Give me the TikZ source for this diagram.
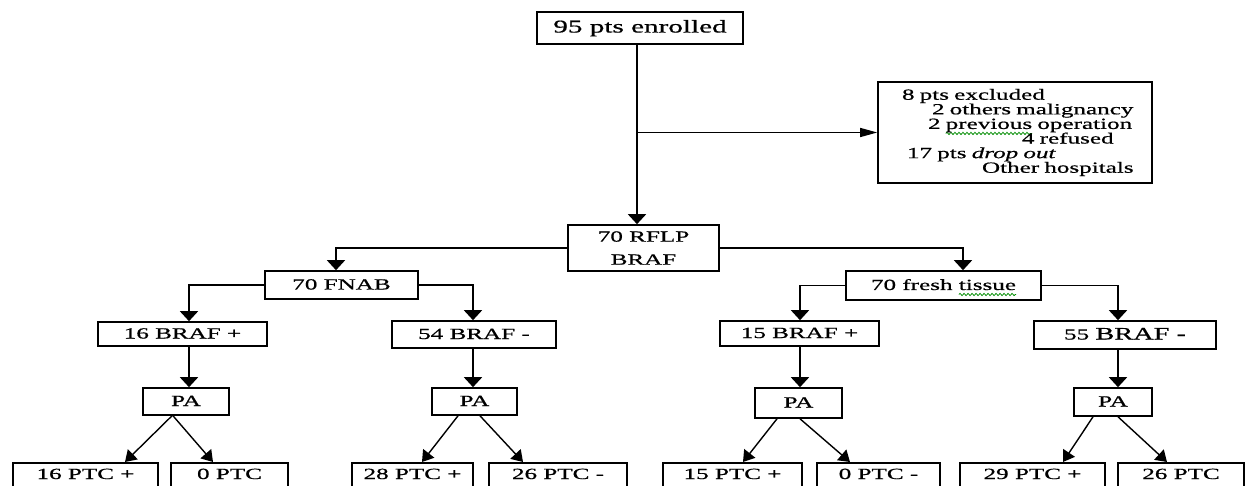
\documentclass[tikz,border=0pt]{standalone}
\usepackage{fontspec}
\setmainfont{Liberation Serif}[FakeStretch=1.62,FakeBold=0.7]
\usetikzlibrary{arrows.meta,calc,decorations.pathmorphing}
\newsavebox\wavebox
\newcommand\gwave[1]{\sbox\wavebox{#1}\rlap{\tikz[overlay,baseline=0pt,x=1pt,y=1pt]\draw[green!55!black,line width=0.8pt,decorate,decoration={snake,segment length=4pt,amplitude=1.1pt}] (0,-4.5) -- (\wd\wavebox,-4.5);}\usebox\wavebox}
\begin{document}
\begin{tikzpicture}[x=1pt,y=-1pt,
  exbox/.style={draw, line width=1.6pt, inner sep=0pt, font=\fontsize{15.5}{18}\selectfont},
  box/.style={exbox, text height=11pt, text depth=2pt},
  leaf/.style={box, anchor=north, text height=16.2pt, text depth=18pt},
  va/.style={line width=1.7pt, -{Triangle[width=18pt,length=10pt]}},
  ha/.style={line width=1.4pt, -{Triangle[width=9pt,length=17pt]}},
  da/.style={line width=1.4pt, -{Triangle[width=14pt,length=11pt]}}]
\useasboundingbox (0,0) rectangle (1247,486);
\clip (0,0) rectangle (1247,486);

\node[box, minimum width=206pt, minimum height=32pt, font=\fontsize{18}{20}\selectfont] (top) at (640,28) {95 pts enrolled};
\node[exbox, minimum width=274pt, minimum height=101pt, text width=274pt, align=left,
      font=\fontsize{15.5}{14.6}\selectfont] (excl) at (1015,132.5)
  {\hspace*{24pt}8 pts excluded\\
   \hspace*{54pt}2 others malignancy\\
   \hspace*{50pt}2 \gwave{previous} operation\\
   \hspace*{144pt}4 refused\\
   \hspace*{29pt}17 pts \textit{drop out}\\
   \hspace*{104pt}Other hospitals};
\node[exbox, minimum width=151pt, minimum height=46pt, align=center,
      font=\fontsize{15.5}{23}\selectfont] (rflp) at (643.5,248) {70 RFLP\\BRAF};

\node[box, minimum width=153pt, minimum height=28pt] (fnab) at (341.5,285) {70 FNAB};
\node[box, minimum width=195pt, minimum height=29pt] (fresh) at (943.5,285.5) {70 fresh \gwave{tissue}};

\node[box, minimum width=169pt, minimum height=24pt] (b16) at (182.5,334) {16 BRAF +};
\node[box, minimum width=164pt, minimum height=27pt] (b54) at (474,334.5) {54 BRAF -};
\node[box, minimum width=159pt, minimum height=25pt] (b15) at (799.5,333.5) {15 BRAF +};
\node[box, minimum width=182pt, minimum height=28pt] (b55) at (1125,335) {55 {\fontsize{17.5}{20}\selectfont BRAF -}};

\node[box, minimum width=86pt, minimum height=27pt] (pa1) at (186,401.5) {PA};
\node[box, minimum width=85pt, minimum height=27pt] (pa2) at (474.5,401.5) {PA};
\node[box, minimum width=87pt, minimum height=30pt] (pa3) at (798.5,403) {PA};
\node[box, minimum width=78pt, minimum height=28pt] (pa4) at (1113,402) {PA};

\node[leaf, minimum width=145pt] (c1) at (85.5,462) {16 PTC +};
\node[leaf, minimum width=117pt] (c2) at (229.5,462) {0 PTC};
\node[leaf, minimum width=121pt] (c3) at (412.5,462) {28 PTC +};
\node[leaf, minimum width=138pt] (c4) at (558,462) {26 PTC -};
\node[leaf, minimum width=139pt] (c5) at (732.5,462) {15 PTC +};
\node[leaf, minimum width=123pt] (c6) at (878.5,462) {0 PTC -};
\node[leaf, minimum width=145pt] (c7) at (1032.5,462) {29 PTC +};
\node[leaf, minimum width=126pt] (c8) at (1181,462) {26 PTC};

% trunk and exclusion branch
\draw[va] ([xshift=-3pt]top.south) -- ([xshift=-3pt]top.south |- rflp.north);
\coordinate (j) at (637,132.5);
\draw[ha] (j) -- (excl.west);

% second level
\draw[va, line width=1.5pt] (rflp.west) -| ([xshift=-5.5pt]fnab.north);
\draw[va, line width=1.5pt] (rflp.east) -| ([xshift=19.5pt]fresh.north);

% third level
\draw[va, line width=1.6pt] (fnab.west) -| ([xshift=6.5pt]b16.north);
\draw[va, line width=1.6pt] (fnab.east) -| ([xshift=-1pt]b54.north);
\draw[va, line width=1.6pt] (fresh.west) -| ([xshift=0.5pt]b15.north);
\draw[va, line width=1.6pt] (fresh.east) -| ([xshift=-7pt]b55.north);

% to PA
\draw[va] ([xshift=6.5pt]b16.south) -- ([xshift=6.5pt]b16.south |- pa1.north);
\draw[va] ([xshift=-1pt]b54.south) -- ([xshift=-1pt]b54.south |- pa2.north);
\draw[va] ([xshift=0.5pt]b15.south) -- ([xshift=0.5pt]b15.south |- pa3.north);
\draw[va] ([xshift=-7pt]b55.south) -- ([xshift=-7pt]b55.south |- pa4.north);

% PA to outcomes
\draw[da] ([xshift=-14pt]pa1.south) -- ([xshift=39.5pt]c1.north);
\draw[da] ([xshift=-13pt]pa1.south) -- ([xshift=-16.5pt]c2.north);
\draw[da] ([xshift=-16.5pt]pa2.south) -- ([xshift=9.5pt]c3.north);
\draw[da] ([xshift=5.5pt]pa2.south) -- ([xshift=-35pt]c4.north);
\draw[da] ([xshift=-21.5pt]pa3.south) -- ([xshift=10.5pt]c5.north);
\draw[da] ([xshift=1.5pt]pa3.south) -- ([xshift=-28.5pt]c6.north);
\draw[da] ([xshift=-20pt]pa4.south) -- ([xshift=30.5pt]c7.north);
\draw[da] ([xshift=5pt]pa4.south) -- ([xshift=-14pt]c8.north);
\end{tikzpicture}
\end{document}
